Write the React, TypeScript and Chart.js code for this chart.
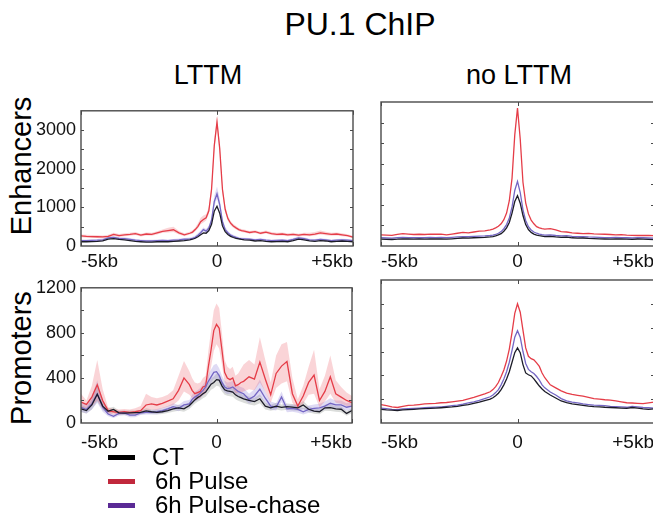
import React, { useEffect, useRef } from "react";
import { Chart, registerables } from "chart.js";

Chart.register(...registerables);

// ---------- data ----------
const X_KB = [-5, -4.8, -4.6, -4.4, -4.2, -4, -3.8, -3.6, -3.4, -3.2, -3, -2.8, -2.6, -2.4, -2.2, -2, -1.8, -1.6, -1.4, -1.2,
  -1, -0.9, -0.8, -0.7, -0.6, -0.5, -0.4, -0.3, -0.2, -0.1, 0, 0.1, 0.2, 0.3, 0.4, 0.5, 0.6, 0.7, 0.8, 0.9, 1,
  1.2, 1.4, 1.6, 1.8, 2, 2.2, 2.4, 2.6, 2.8, 3, 3.2, 3.4, 3.6, 3.8, 4, 4.2, 4.4, 4.6, 4.8, 5];

const X_TICK_VALUES = [-5, 0, 5];
const X_TICK_LABELS = ["-5kb", "0", "+5kb"];
const Y_LABELS_ENH = [0, 1000, 2000, 3000];
const Y_MINOR_ENH = [500, 1000, 1500, 2000, 2500, 3000];
const Y_LABELS_PRO = [0, 400, 800, 1200];
const Y_MINOR_PRO = [200, 400, 600, 800, 1000];

// Enhancers, LTTM
const CT_ENH_LTTM = [110, 110, 115, 120, 130, 180, 190, 170, 160, 140, 120, 110, 100, 100, 110, 115, 110, 120, 130, 140,
  160, 175, 200, 240, 290, 340, 330, 400, 560, 900, 1030, 850, 520, 370, 300, 250, 220, 200, 185, 170, 160,
  150, 130, 140, 120, 110, 115, 120, 110, 140, 180, 160, 130, 120, 140, 130, 110, 120, 130, 120, 110];
const PULSE_ENH_LTTM = [260, 250, 245, 240, 235, 250, 300, 270, 290, 300, 320, 280, 310, 300, 340, 380, 400, 420, 340, 290,
  330, 360, 425, 510, 630, 685, 730, 910, 1470, 2600, 3210, 2520, 1470, 950, 710, 590, 520, 470, 425, 400, 385,
  350, 370, 330, 360, 320, 300, 310, 290, 300, 280, 300, 290, 310, 340, 320, 300, 310, 290, 270, 230];
const PULSE_ENH_LTTM_HI = [300, 290, 285, 280, 275, 290, 345, 310, 330, 340, 360, 320, 350, 340, 385, 430, 470, 500, 390, 330,
  370, 405, 480, 590, 730, 790, 820, 1010, 1600, 2760, 3340, 2660, 1580, 1040, 780, 650, 570, 515, 465, 440, 425,
  390, 410, 370, 400, 360, 340, 350, 330, 340, 320, 340, 340, 360, 400, 370, 340, 350, 330, 305, 265];
const PULSE_ENH_LTTM_LO = [225, 215, 210, 205, 200, 215, 260, 235, 255, 265, 285, 245, 275, 265, 300, 340, 350, 360, 300, 255,
  295, 320, 380, 450, 560, 610, 660, 830, 1360, 2460, 3090, 2400, 1370, 870, 650, 540, 475, 430, 390, 365, 350,
  315, 335, 295, 325, 285, 265, 275, 255, 265, 245, 265, 255, 275, 295, 280, 265, 275, 255, 240, 200];
const CHASE_ENH_LTTM = [140, 140, 145, 150, 160, 210, 220, 200, 190, 170, 150, 140, 130, 130, 140, 145, 140, 150, 160, 175,
  185, 200, 225, 280, 345, 425, 385, 465, 670, 1150, 1350, 1070, 630, 425, 345, 280, 250, 225, 200, 185, 185,
  180, 160, 170, 150, 140, 145, 150, 140, 170, 210, 190, 160, 150, 170, 160, 140, 150, 160, 150, 140];
const CHASE_ENH_LTTM_HI = [170, 170, 175, 180, 195, 245, 255, 235, 225, 205, 180, 170, 160, 160, 170, 175, 170, 180, 195, 210,
  220, 240, 270, 330, 400, 480, 440, 530, 760, 1300, 1540, 1220, 720, 490, 395, 325, 290, 260, 235, 220, 215,
  210, 190, 200, 180, 170, 175, 180, 170, 205, 245, 225, 190, 180, 200, 190, 170, 180, 190, 180, 170];
const CHASE_ENH_LTTM_LO = [115, 115, 120, 125, 135, 180, 190, 170, 160, 145, 125, 115, 105, 105, 115, 120, 115, 125, 135, 150,
  160, 170, 190, 240, 300, 375, 340, 410, 600, 1030, 1220, 960, 560, 375, 300, 245, 215, 195, 175, 160, 160,
  155, 135, 145, 125, 115, 120, 125, 115, 140, 180, 160, 135, 125, 145, 135, 115, 125, 135, 125, 115];

// Enhancers, no LTTM
const CT_ENH_NO = [165, 160, 158, 165, 175, 170, 165, 170, 165, 175, 170, 175, 165, 175, 185, 195, 190, 200, 205, 210,
  220, 230, 245, 270, 300, 360, 440, 570, 800, 1080, 1224, 1040, 740, 520, 400, 330, 290, 265, 250, 240, 230,
  235, 220, 210, 215, 200, 190, 195, 185, 180, 175, 170, 165, 175, 170, 165, 160, 170, 165, 160, 155];
const PULSE_ENH_NO = [270, 265, 260, 280, 300, 290, 280, 285, 280, 290, 285, 290, 270, 290, 310, 330, 320, 340, 360, 370,
  390, 410, 440, 480, 540, 640, 800, 1100, 1650, 2700, 3350, 2600, 1550, 1050, 780, 630, 540, 470, 440, 420, 410,
  420, 390, 350, 340, 320, 310, 300, 305, 295, 290, 285, 280, 270, 275, 265, 258, 255, 260, 255, 250];
const CHASE_ENH_NO = [200, 195, 190, 200, 210, 205, 200, 205, 200, 210, 205, 210, 200, 210, 220, 230, 225, 235, 240, 245,
  255, 265, 280, 310, 350, 420, 520, 680, 950, 1350, 1570, 1300, 880, 620, 470, 390, 340, 310, 290, 275, 265,
  270, 255, 245, 250, 235, 225, 230, 220, 215, 210, 205, 200, 210, 205, 200, 195, 205, 200, 195, 190];

// Promoters, LTTM
const CT_PRO_LTTM = [125, 110, 160, 255, 150, 105, 120, 90, 88, 90, 92, 95, 108, 100, 95, 100, 110, 125, 135, 125,
  155, 180, 205, 225, 240, 260, 275, 310, 345, 360, 385, 380, 330, 295, 285, 280, 275, 250, 235, 225, 215,
  200, 190, 215, 150, 135, 150, 138, 145, 140, 135, 160, 122, 105, 100, 135, 136, 125, 122, 85, 110];
const CT_PRO_LTTM_HI = [160, 140, 210, 330, 190, 130, 145, 110, 108, 110, 112, 115, 130, 122, 115, 122, 135, 150, 162, 150,
  185, 212, 240, 262, 278, 300, 318, 355, 395, 412, 440, 435, 380, 340, 328, 322, 316, 290, 272, 262, 250,
  235, 225, 255, 180, 162, 180, 165, 172, 168, 162, 195, 148, 128, 122, 162, 165, 150, 148, 105, 132];
const CT_PRO_LTTM_LO = [95, 85, 120, 190, 115, 82, 95, 70, 68, 70, 72, 75, 86, 80, 75, 80, 88, 100, 108, 100,
  125, 148, 170, 188, 202, 220, 232, 265, 295, 308, 330, 325, 280, 250, 242, 238, 234, 210, 198, 188, 180,
  165, 155, 175, 120, 108, 120, 110, 118, 112, 108, 125, 96, 82, 78, 108, 107, 100, 96, 65, 88];
const PULSE_PRO_LTTM = [185, 165, 230, 340, 200, 110, 100, 95, 100, 95, 100, 110, 160, 170, 160, 175, 195, 215, 290, 400,
  340, 290, 260, 270, 280, 320, 330, 500, 650, 820, 875, 840, 650, 450, 400, 385, 400, 330, 340, 360, 370,
  410, 390, 540, 390, 250, 440, 505, 545, 260, 150, 240, 360, 425, 200, 280, 410, 260, 230, 200, 180];
const PULSE_PRO_LTTM_HI = [260, 200, 330, 560, 300, 140, 125, 120, 125, 120, 130, 150, 260, 230, 220, 230, 250, 290, 420, 550,
  460, 400, 360, 350, 360, 400, 420, 640, 820, 1000, 1060, 1020, 800, 560, 500, 480, 500, 420, 440, 480, 520,
  560, 520, 760, 560, 360, 600, 700, 720, 400, 210, 330, 500, 650, 300, 420, 600, 380, 320, 270, 240];
const PULSE_PRO_LTTM_LO = [130, 130, 150, 200, 130, 85, 75, 75, 80, 75, 80, 85, 110, 120, 115, 130, 145, 160, 200, 280,
  250, 220, 200, 210, 220, 250, 260, 380, 500, 640, 700, 660, 520, 360, 320, 300, 310, 260, 270, 270, 280,
  300, 290, 360, 280, 180, 310, 350, 370, 180, 110, 170, 250, 260, 140, 190, 260, 180, 170, 150, 140];
const CHASE_PRO_LTTM = [140, 120, 170, 260, 140, 80, 60, 85, 90, 70, 70, 90, 95, 95, 100, 110, 125, 145, 130, 160,
  170, 210, 230, 245, 265, 290, 320, 370, 410, 450, 455, 420, 360, 320, 305, 310, 320, 300, 280, 270, 260,
  210, 240, 300, 220, 150, 140, 230, 125, 130, 120, 100, 120, 130, 135, 150, 175, 160, 160, 140, 150];
const CHASE_PRO_LTTM_HI = [190, 160, 240, 380, 200, 105, 80, 105, 110, 90, 90, 110, 115, 115, 125, 135, 150, 175, 160, 195,
  205, 250, 275, 290, 310, 340, 375, 430, 475, 515, 525, 485, 420, 375, 360, 365, 375, 350, 330, 320, 310,
  260, 300, 385, 280, 190, 175, 280, 160, 165, 155, 130, 155, 165, 170, 190, 220, 200, 200, 175, 190];
const CHASE_PRO_LTTM_LO = [100, 85, 120, 180, 100, 60, 45, 65, 70, 52, 52, 70, 75, 75, 78, 88, 100, 118, 105, 130,
  138, 172, 190, 202, 222, 245, 270, 315, 350, 390, 392, 360, 305, 270, 255, 260, 270, 252, 235, 225, 215,
  170, 195, 235, 175, 118, 110, 185, 95, 100, 92, 75, 92, 100, 105, 118, 138, 125, 125, 108, 115];

// Promoters, no LTTM
const CT_PRO_NO = [115, 110, 108, 105, 110, 112, 115, 118, 120, 122, 125, 128, 132, 135, 140, 148, 155, 165, 175, 188,
  200, 212, 228, 250, 280, 320, 370, 430, 510, 590, 630, 590, 490, 420, 405, 395, 370, 340, 310, 285, 265,
  235, 210, 185, 170, 160, 155, 148, 142, 138, 136, 132, 130, 128, 125, 122, 130, 125, 118, 115, 118];
const PULSE_PRO_NO = [155, 145, 135, 130, 140, 148, 150, 155, 160, 162, 165, 170, 172, 178, 184, 190, 203, 215, 230, 245,
  262, 280, 305, 340, 390, 445, 520, 620, 760, 920, 1000, 930, 780, 630, 560, 540, 530, 505, 475, 420, 380,
  320, 295, 270, 250, 240, 232, 225, 215, 205, 200, 195, 192, 185, 178, 170, 168, 165, 162, 168, 175];
const CHASE_PRO_NO = [125, 120, 115, 112, 118, 120, 122, 125, 128, 130, 133, 136, 140, 145, 150, 158, 168, 178, 190, 205,
  220, 235, 255, 280, 320, 370, 430, 510, 610, 720, 775, 720, 600, 500, 450, 430, 415, 390, 360, 320, 295,
  260, 235, 205, 185, 175, 168, 160, 155, 150, 148, 145, 140, 138, 135, 132, 140, 135, 130, 128, 125];

// ---------- styles ----------
const FONT = '"Liberation Sans", Arial, Helvetica, sans-serif';
const C_CT = "#1c1c28";
const C_PULSE = "#e53d48";
const C_CHASE = "#7466c4";
const F_PULSE = "rgba(236, 100, 110, 0.28)";
const F_CHASE = "rgba(140, 125, 215, 0.28)";
const F_CT = "rgba(110, 120, 110, 0.25)";

const pts = (vals: number[]) => X_KB.map((x, i) => ({ x, y: vals[i] }));
const lineDs = (label: string, vals: number[], color: string) => ({
  label, data: pts(vals), borderColor: color, borderWidth: 1.3, pointRadius: 0, fill: false, tension: 0,
});
const bandDs = (hi: number[], lo: number[], color: string) => [
  { label: "hi", data: pts(hi), borderColor: "transparent", borderWidth: 0, pointRadius: 0, fill: "+1", backgroundColor: color, tension: 0 },
  { label: "lo", data: pts(lo), borderColor: "transparent", borderWidth: 0, pointRadius: 0, fill: false, tension: 0 },
];

const framePlugin = {
  id: "frame",
  afterDraw(chart: any, _args: any, opts: any) {
    const { ctx, chartArea: a, scales } = chart;
    ctx.save();
    ctx.strokeStyle = "#4a4a4a";
    ctx.lineWidth = 1.4;
    ctx.strokeRect(a.left, a.top, a.right - a.left, a.bottom - a.top);
    ctx.lineWidth = 1;
    ctx.beginPath();
    for (const v of opts.yTicks || []) {
      const py = Math.round(scales.y.getPixelForValue(v)) + 0.5;
      ctx.moveTo(a.left, py); ctx.lineTo(a.left + 3, py);
      ctx.moveTo(a.right - 3, py); ctx.lineTo(a.right, py);
    }
    for (const v of opts.xTicks || []) {
      const px = Math.round(scales.x.getPixelForValue(v)) + 0.5;
      ctx.moveTo(px, a.bottom); ctx.lineTo(px, a.bottom - 4);
      ctx.moveTo(px, a.top); ctx.lineTo(px, a.top + 4);
    }
    ctx.stroke();
    ctx.restore();
  },
};

type PanelProps = {
  left: number; top: number; width: number; height: number;
  padTop: number; padRight: number; yw: number; xh: number; xPad: number;
  yMax: number; yLabels: number[]; yMinor: number[]; showY: boolean;
  datasets: any[];
};

function Panel(p: PanelProps) {
  const ref = useRef<HTMLCanvasElement | null>(null);
  useEffect(() => {
    if (!ref.current) return;
    const chart = new Chart(ref.current, {
      type: "line",
      data: { datasets: p.datasets },
      plugins: [framePlugin],
      options: {
        responsive: false,
        animation: false,
        devicePixelRatio: 1,
        layout: { padding: { top: p.padTop, right: p.padRight, left: 0, bottom: 0 } },
        plugins: {
          legend: { display: false },
          tooltip: { enabled: false },
          frame: { yTicks: p.yMinor, xTicks: X_TICK_VALUES },
        } as any,
        scales: {
          x: {
            type: "linear", min: -5, max: 5,
            grid: { display: false, drawTicks: false },
            border: { display: false },
            afterBuildTicks: (s: any) => { s.ticks = X_TICK_VALUES.map((v) => ({ value: v })); },
            afterFit: (s: any) => { s.height = p.xh; },
            ticks: {
              autoSkip: false, maxRotation: 0, align: "inner", padding: p.xPad, color: "#111",
              font: { family: FONT, size: 19 },
              callback: (v: any) => X_TICK_LABELS[X_TICK_VALUES.indexOf(Number(v))],
            },
          },
          y: {
            type: "linear", min: 0, max: p.yMax,
            grid: { display: false, drawTicks: false },
            border: { display: false },
            afterBuildTicks: (s: any) => { s.ticks = p.yLabels.map((v) => ({ value: v })); },
            afterFit: (s: any) => { s.width = p.yw; },
            ticks: {
              display: p.showY, padding: 5, color: "#111",
              font: { family: FONT, size: 18 },
              callback: (v: any) => String(v),
            },
          },
        },
      } as any,
    });
    return () => chart.destroy();
  }, []);
  return (
    <canvas
      ref={ref}
      width={p.width}
      height={p.height}
      style={{ position: "absolute", left: p.left, top: p.top, width: p.width, height: p.height }}
    />
  );
}

const txt = (s: any): React.CSSProperties => ({
  position: "absolute", whiteSpace: "nowrap", lineHeight: 1, fontFamily: FONT, color: "#000", ...s,
});

export default function App() {
  const enhL = [
    lineDs("CT", CT_ENH_LTTM, C_CT), lineDs("6h Pulse-chase", CHASE_ENH_LTTM, C_CHASE), lineDs("6h Pulse", PULSE_ENH_LTTM, C_PULSE),
    ...bandDs(PULSE_ENH_LTTM_HI, PULSE_ENH_LTTM_LO, F_PULSE), ...bandDs(CHASE_ENH_LTTM_HI, CHASE_ENH_LTTM_LO, F_CHASE),
  ];
  const enhN = [
    lineDs("CT", CT_ENH_NO, C_CT), lineDs("6h Pulse-chase", CHASE_ENH_NO, C_CHASE), lineDs("6h Pulse", PULSE_ENH_NO, C_PULSE),
  ];
  const proL = [
    lineDs("CT", CT_PRO_LTTM, C_CT), lineDs("6h Pulse-chase", CHASE_PRO_LTTM, C_CHASE), lineDs("6h Pulse", PULSE_PRO_LTTM, C_PULSE),
    ...bandDs(PULSE_PRO_LTTM_HI, PULSE_PRO_LTTM_LO, F_PULSE), ...bandDs(CHASE_PRO_LTTM_HI, CHASE_PRO_LTTM_LO, F_CHASE),
    ...bandDs(CT_PRO_LTTM_HI, CT_PRO_LTTM_LO, F_CT),
  ];
  const proN = [
    lineDs("CT", CT_PRO_NO, C_CT), lineDs("6h Pulse-chase", CHASE_PRO_NO, C_CHASE), lineDs("6h Pulse", PULSE_PRO_NO, C_PULSE),
  ];

  const legendItems = [
    { label: "CT", color: "#000000", y: 457, tx: 152 },
    { label: "6h Pulse", color: "#c1283c", y: 481, tx: 155 },
    { label: "6h Pulse-chase", color: "#5a2a95", y: 505, tx: 155 },
  ];

  return (
    <div style={{ position: "fixed", left: 0, top: 0, width: 653, height: 521, overflow: "hidden", background: "#fff" }}>
      <div style={txt({ left: 360, top: 8, fontSize: 32, transform: "translateX(-50%)" })}>PU.1 ChIP</div>
      <div style={txt({ left: 208, top: 62, fontSize: 27, transform: "translateX(-50%)" })}>LTTM</div>
      <div style={txt({ left: 519, top: 62, fontSize: 27, transform: "translateX(-50%)" })}>no LTTM</div>
      <div style={txt({ left: 21, top: 166, fontSize: 29, transform: "translate(-50%,-50%) rotate(-90deg)" })}>Enhancers</div>
      <div style={txt({ left: 21, top: 358, fontSize: 29, transform: "translate(-50%,-50%) rotate(-90deg)" })}>Promoters</div>

      <Panel left={20} top={95} width={340} height={180} padTop={6} padRight={7} yw={61} xh={29} xPad={4}
        yMax={3500} yLabels={Y_LABELS_ENH} yMinor={Y_MINOR_ENH} showY={true} datasets={enhL} />
      <Panel left={365} top={95} width={300} height={180} padTop={7} padRight={11} yw={16} xh={29} xPad={4}
        yMax={3500} yLabels={Y_LABELS_ENH} yMinor={Y_MINOR_ENH} showY={false} datasets={enhN} />
      <Panel left={20} top={272} width={340} height={180} padTop={7} padRight={7} yw={61} xh={29} xPad={8}
        yMax={1200} yLabels={Y_LABELS_PRO} yMinor={Y_MINOR_PRO} showY={true} datasets={proL} />
      <Panel left={365} top={272} width={300} height={180} padTop={8} padRight={11} yw={16} xh={29} xPad={8}
        yMax={1200} yLabels={Y_LABELS_PRO} yMinor={Y_MINOR_PRO} showY={false} datasets={proN} />

      {legendItems.map((it) => (
        <React.Fragment key={it.label}>
          <div style={{ position: "absolute", left: 108, top: it.y - 2, width: 27, height: 5, background: it.color }} />
          <div style={txt({ left: it.tx, top: it.y - 12, fontSize: 24 })}>{it.label}</div>
        </React.Fragment>
      ))}
    </div>
  );
}
